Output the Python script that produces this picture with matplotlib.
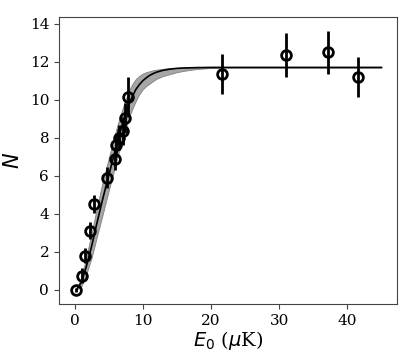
import numpy as np
import matplotlib
matplotlib.use("Agg")
import matplotlib.pyplot as plt

# datos medidos
E0 = [0.25, 1.1, 1.57, 2.2, 2.8, 4.8, 5.9, 6.0, 6.5, 7.05, 7.45, 7.9,
      21.6, 31.0, 37.2, 41.6]
N = [0.0, 0.74, 1.8, 3.1, 4.5, 5.9, 6.9, 7.6, 8.0, 8.35, 9.05, 10.15,
     11.35, 12.35, 12.5, 11.2]
N_err = [0.1, 0.4, 0.4, 0.45, 0.48, 0.55, 0.6, 0.6, 0.65, 0.75, 0.8, 1.05,
         1.05, 1.17, 1.13, 1.07]

# curva ajustada y banda
E_fit = [0.3, 1.0, 1.7, 2.5, 3.2, 4.0, 4.7, 5.5, 6.3, 7.0, 7.5, 8.0, 8.5, 9.0,
         9.5, 10.0, 10.5, 11.0, 11.5, 12.0, 13.0, 14.0, 15.0, 16.0, 18.0,
         20.0, 22.0, 45.0]
N_fit = [0.02, 0.4, 1.2, 2.3, 3.4, 4.6, 5.6, 6.7, 7.8, 8.7, 9.3, 9.8, 10.2,
         10.55, 10.8, 11.0, 11.15, 11.28, 11.37, 11.45, 11.55, 11.61, 11.65,
         11.67, 11.69, 11.7, 11.7, 11.7]
N_up = [0.05, 0.65, 1.7, 3.0, 4.2, 5.5, 6.5, 7.6, 8.7, 9.5, 10.05, 10.5, 10.85,
        11.1, 11.26, 11.38, 11.45, 11.5, 11.55, 11.58, 11.63, 11.67, 11.68,
        11.69, 11.7, 11.7, 11.7, 11.7]
N_low = [0.0, 0.2, 0.8, 1.7, 2.7, 3.8, 4.8, 5.9, 7.0, 7.9, 8.5, 9.1, 9.55,
         9.95, 10.3, 10.55, 10.72, 10.85, 10.98, 11.1, 11.25, 11.35, 11.45,
         11.52, 11.62, 11.67, 11.7, 11.7]

plt.rcParams['font.family'] = 'DejaVu Serif'

fig = plt.figure(figsize=(4.15, 3.63), dpi=100)
ax = fig.add_axes([0.142, 0.1625, 0.815, 0.7905])

ax.fill_between(E_fit, N_low, N_up, facecolor='#a6a6a6', edgecolor='#808080', linewidth=0.6)
ax.plot(E_fit, N_fit, color='black', lw=1.2)
ax.errorbar(E0, N, yerr=N_err, fmt='o', mfc='none', mec='black', mew=2,
            ms=7, ecolor='black', elinewidth=2, capsize=0)

ax.set_xlim(-2.3, 47.3)
ax.set_ylim(-0.75, 14.35)
ax.set_xticks([0, 10, 20, 30, 40])
ax.set_yticks(range(0, 15, 2))
ax.tick_params(labelsize=11, length=3.5, color='#444444')
for s in ax.spines.values():
    s.set_color('#444444')

ax.set_xlabel(r'$E_0$ ($\mu$K)', fontsize=14, labelpad=1)
ax.set_ylabel(r'$N$', fontsize=15, labelpad=5)

plt.savefig('out.png', dpi=100)
